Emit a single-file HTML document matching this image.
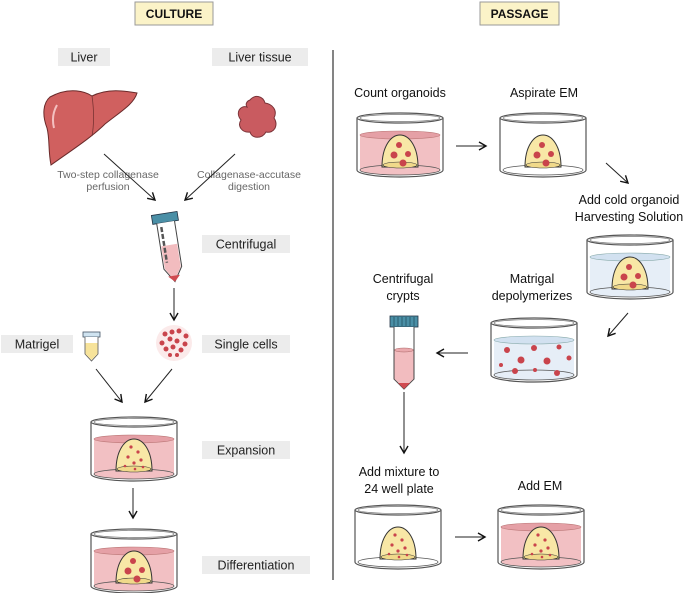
<!DOCTYPE html>
<html><head><meta charset="utf-8"><style>
html,body{margin:0;padding:0;background:#fff;}
svg{display:block;font-family:"Liberation Sans",sans-serif;}
</style></head><body>
<svg width="685" height="593" viewBox="0 0 685 593" xmlns="http://www.w3.org/2000/svg">
<defs>
<marker id="ah" markerWidth="10" markerHeight="10" refX="8" refY="5" orient="auto" markerUnits="userSpaceOnUse">
<path d="M1,1 L8,5 L1,9" fill="none" stroke="#111" stroke-width="1.4"/></marker>
<g id="dome">
<path d="M25,49 C25,28 34,17 43,17 C52,17 61,28 61,49 Z" fill="#f8e7a6" stroke="#333" stroke-width="1"/>
<ellipse cx="43" cy="47" rx="17" ry="3" fill="#f0d98a" stroke="#333" stroke-width="0.6"/>
</g>
<g id="dots">
<circle cx="40" cy="25" r="1.6" fill="#c9444c"/><circle cx="47" cy="30" r="1.6" fill="#c9444c"/>
<circle cx="37" cy="35" r="1.6" fill="#c9444c"/><circle cx="50" cy="38" r="1.6" fill="#c9444c"/>
<circle cx="43" cy="41" r="1.6" fill="#c9444c"/><circle cx="34" cy="44" r="1.3" fill="#c9444c"/>
<circle cx="52" cy="45" r="1.3" fill="#c9444c"/><circle cx="44" cy="47" r="1.3" fill="#c9444c"/>
</g>
<g id="clumps">
<circle cx="42" cy="27" r="3" fill="#c9444c"/><circle cx="37" cy="37" r="3.5" fill="#c9444c"/>
<circle cx="51" cy="36" r="3" fill="#c9444c"/><circle cx="46" cy="45" r="3.5" fill="#c9444c"/>
</g>
<g id="dishE">
<path d="M0,0 L0,52 A43,7 0 0 0 86,52 L86,0" fill="#fff" stroke="#555" stroke-width="1.2"/>
<ellipse cx="43" cy="52" rx="40" ry="5" fill="none" stroke="#555" stroke-width="0.8"/>
<ellipse cx="43" cy="0" rx="43" ry="5" fill="#fff" stroke="#555" stroke-width="1.2"/>
<ellipse cx="43" cy="0" rx="40" ry="3.5" fill="none" stroke="#777" stroke-width="0.7"/>
</g>
<g id="dishP">
<path d="M0,0 L0,52 A43,7 0 0 0 86,52 L86,0" fill="#fff" stroke="#555" stroke-width="1.2"/>
<path d="M3,17 L3,52 A40,5 0 0 0 83,52 L83,17 Z" fill="#f2c0c3"/>
<ellipse cx="43" cy="17" rx="40" ry="4" fill="#e5a0a6" stroke="#b77" stroke-width="0.6"/>
<ellipse cx="43" cy="52" rx="40" ry="5" fill="none" stroke="#555" stroke-width="0.8"/>
<ellipse cx="43" cy="0" rx="43" ry="5" fill="#fff" stroke="#555" stroke-width="1.2"/>
<ellipse cx="43" cy="0" rx="40" ry="3.5" fill="none" stroke="#777" stroke-width="0.7"/>
</g>
<g id="dishB">
<path d="M0,0 L0,52 A43,7 0 0 0 86,52 L86,0" fill="#fff" stroke="#555" stroke-width="1.2"/>
<path d="M3,17 L3,52 A40,5 0 0 0 83,52 L83,17 Z" fill="#e6eef7"/>
<ellipse cx="43" cy="17" rx="40" ry="4" fill="#d2e1f0" stroke="#8aa" stroke-width="0.6"/>
<ellipse cx="43" cy="52" rx="40" ry="5" fill="none" stroke="#555" stroke-width="0.8"/>
<ellipse cx="43" cy="0" rx="43" ry="5" fill="#fff" stroke="#555" stroke-width="1.2"/>
<ellipse cx="43" cy="0" rx="40" ry="3.5" fill="none" stroke="#777" stroke-width="0.7"/>
</g>
</defs>

<rect x="135" y="2" width="78" height="23" fill="#fbf3c8" stroke="#999" stroke-width="1"/>
<text x="174" y="18" font-size="12" font-weight="bold" text-anchor="middle" fill="#111">CULTURE</text>
<rect x="480" y="2" width="79" height="23" fill="#fbf3c8" stroke="#999" stroke-width="1"/>
<text x="519.5" y="18" font-size="12" font-weight="bold" text-anchor="middle" fill="#111">PASSAGE</text>
<line x1="333" y1="50" x2="333" y2="580" stroke="#333" stroke-width="1.2"/>

<g font-size="12.5" fill="#222" text-anchor="middle">
<rect x="58" y="48" width="52" height="18" fill="#ececec"/><text x="84" y="61.5">Liver</text>
<rect x="212" y="48" width="96" height="18" fill="#ececec"/><text x="260" y="61.5">Liver tissue</text>
<rect x="202" y="235" width="88" height="18" fill="#ececec"/><text x="246" y="248.5">Centrifugal</text>
<rect x="1" y="335" width="72" height="18" fill="#ececec"/><text x="37" y="348.5">Matrigel</text>
<rect x="202" y="335" width="88" height="18" fill="#ececec"/><text x="246" y="348.5">Single cells</text>
<rect x="202" y="441" width="88" height="18" fill="#ececec"/><text x="246" y="454.5">Expansion</text>
<rect x="202" y="556" width="108" height="18" fill="#ececec"/><text x="256" y="569.5">Differentiation</text>
</g>

<path d="M50,97 C70,86 86,92 92,96 C108,88 125,91 137,93 C134,104 120,112 105,124 C92,137 72,150 51,165 C48,150 50,140 47,128 C42,115 43,103 50,97 Z" fill="#d0605f" stroke="#6a2a2a" stroke-width="1"/>
<path d="M92,96 C94,110 94,125 92,136" fill="none" stroke="#7a3333" stroke-width="0.8"/>
<path d="M57,105 C53,112 52,120 54,128" fill="none" stroke="#f4c0c0" stroke-width="2"/>
<path d="M250,100 C255,94 263,96 265,103 C272,104 278,110 274,118 C279,125 274,134 266,132 C262,139 252,139 250,132 C242,133 237,126 241,120 C235,113 240,105 247,107 C245,104 247,101 250,100 Z" fill="#c95b60" stroke="#7a3338" stroke-width="1"/>

<g font-size="10.5" fill="#666" text-anchor="middle">
<text x="108" y="178">Two-step collagenase</text><text x="108" y="190">perfusion</text>
<text x="249" y="178">Collagenase-accutase</text><text x="249" y="190">digestion</text>
</g>
<g stroke="#222" stroke-width="1" marker-end="url(#ah)">
<line x1="104" y1="154" x2="155" y2="200"/>
<line x1="235" y1="154" x2="185" y2="200"/>
<line x1="174" y1="288" x2="174" y2="320"/>
<line x1="96" y1="369" x2="122" y2="402"/>
<line x1="172" y1="369" x2="145" y2="402"/>
<line x1="133" y1="488" x2="133" y2="518"/>
<line x1="456" y1="146" x2="486" y2="146"/>
<line x1="606" y1="163" x2="628" y2="183"/>
<line x1="628" y1="313" x2="608" y2="336"/>
<line x1="468" y1="353" x2="437" y2="353"/>
<line x1="404" y1="392" x2="404" y2="453"/>
<line x1="455" y1="537" x2="485" y2="537"/>
</g>

<g transform="rotate(-9 170 250)">
<rect x="157" y="213" width="26" height="9" fill="#4a8fa6" stroke="#234" stroke-width="0.8"/>
<path d="M161,222 L161,268 L170,282 L179,268 L179,222" fill="#fff" stroke="#444" stroke-width="1"/>
<path d="M162,245 L178,245 L178,268 L170,281 L162,268 Z" fill="#f2bcbf"/>
<path d="M164,276 L170,282 L176,276 Z" fill="#d04a50"/>
<line x1="165" y1="226" x2="165" y2="262" stroke="#555" stroke-width="2.5" stroke-dasharray="5,2"/>
</g>
<rect x="83" y="332" width="17" height="5" fill="#cfe3f0" stroke="#456" stroke-width="0.8"/>
<path d="M85,337 L85,354 L91.5,361 L98,354 L98,337" fill="#fff" stroke="#555" stroke-width="0.8"/>
<path d="M85.5,343 L97.5,343 L97.5,354 L91.5,360 L85.5,354 Z" fill="#f7e39a"/>
<circle cx="174" cy="343" r="18" fill="#fbeaea"/>
<g fill="#c9444c">
<circle cx="165" cy="334" r="2.5"/><circle cx="172" cy="332" r="2.5"/><circle cx="179" cy="331" r="2.5"/><circle cx="186" cy="336" r="2.5"/>
<circle cx="162" cy="343" r="2.5"/><circle cx="170" cy="339" r="2.5"/><circle cx="177" cy="341" r="2.5"/><circle cx="185" cy="344" r="2.5"/>
<circle cx="166" cy="349" r="2.5"/><circle cx="173" cy="347" r="2.5"/><circle cx="181" cy="350" r="2.5"/><circle cx="170" cy="355" r="2"/><circle cx="177" cy="355" r="2"/>
</g>

<g transform="translate(91,422)"><use href="#dishP"/><use href="#dome"/><use href="#dots"/></g>
<g transform="translate(91,534)"><use href="#dishP"/><use href="#dome"/><use href="#clumps"/></g>

<g font-size="12.5" fill="#111" text-anchor="middle">
<text x="400" y="97">Count organoids</text>
<text x="544" y="97">Aspirate EM</text>
<text x="629" y="204">Add cold organoid</text>
<text x="629" y="221">Harvesting Solution</text>
<text x="403" y="283">Centrifugal</text>
<text x="403" y="300">crypts</text>
<text x="532" y="283">Matrigal</text>
<text x="532" y="300">depolymerizes</text>
<text x="399" y="476">Add mixture to</text>
<text x="399" y="493">24 well plate</text>
<text x="540" y="490">Add EM</text>
</g>

<g transform="translate(357,118)"><use href="#dishP"/><use href="#dome"/><use href="#clumps"/></g>
<g transform="translate(500,118)"><use href="#dishE"/><use href="#dome"/><use href="#clumps"/></g>
<g transform="translate(587,240)"><use href="#dishB"/><use href="#dome"/><use href="#clumps"/></g>
<g transform="translate(491,323)"><use href="#dishB"/>
<g fill="#c9444c"><circle cx="16" cy="27" r="3"/><circle cx="43" cy="25" r="3"/><circle cx="68" cy="24" r="2.5"/><circle cx="30" cy="37" r="3.5"/><circle cx="56" cy="38" r="3.5"/><circle cx="78" cy="35" r="2.5"/><circle cx="10" cy="42" r="2"/><circle cx="24" cy="48" r="3"/><circle cx="44" cy="47" r="2"/><circle cx="66" cy="50" r="3"/></g></g>
<g transform="translate(355,510)"><use href="#dishE"/><use href="#dome"/><use href="#dots"/></g>
<g transform="translate(498,510)"><use href="#dishP"/><use href="#dome"/><use href="#dots"/></g>

<rect x="390" y="316" width="28" height="11" fill="#4a8fa6" stroke="#234" stroke-width="0.8"/>
<g stroke="#1d4a5a" stroke-width="0.7"><line x1="394" y1="317" x2="394" y2="326"/><line x1="398" y1="317" x2="398" y2="326"/><line x1="402" y1="317" x2="402" y2="326"/><line x1="406" y1="317" x2="406" y2="326"/><line x1="410" y1="317" x2="410" y2="326"/><line x1="414" y1="317" x2="414" y2="326"/></g>
<path d="M394,327 L394,379 L404,389 L414,379 L414,327" fill="#fff" stroke="#444" stroke-width="1"/>
<path d="M394.5,350 L413.5,350 L413.5,379 L404,388 L394.5,379 Z" fill="#f2bcbf"/>
<ellipse cx="404" cy="350" rx="9.5" ry="2" fill="#eaa9ad" stroke="#a66" stroke-width="0.5"/>
<path d="M398,383 L404,389 L410,383 Z" fill="#d04a50"/>
</svg>
</body></html>
